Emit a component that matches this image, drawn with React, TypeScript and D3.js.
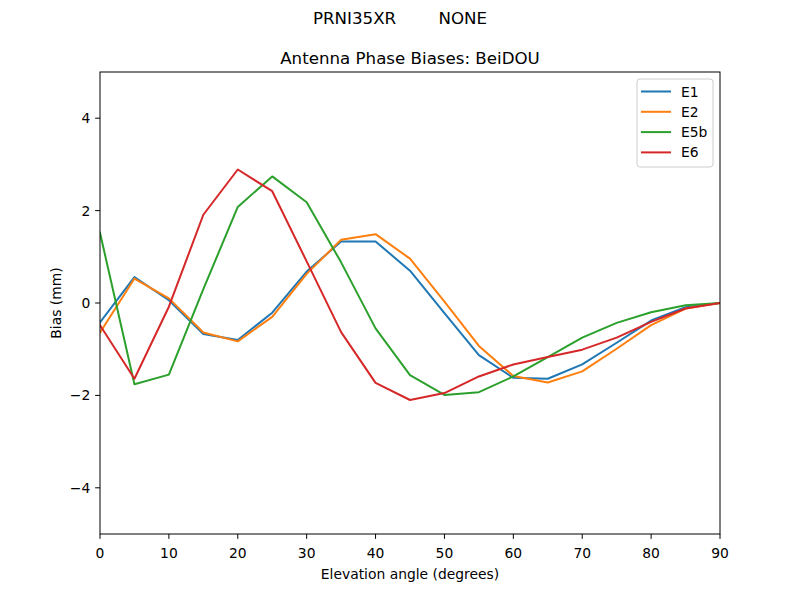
import React from "react";
import * as d3 from "d3";

const ELEVATION = [0, 5, 10, 15, 20, 25, 30, 35, 40, 45, 50, 55, 60, 65, 70, 75, 80, 85, 90];

const E1 = [-0.42, 0.56, 0.06, -0.67, -0.8, -0.21, 0.68, 1.33, 1.33, 0.7, -0.22, -1.13, -1.62, -1.64, -1.33, -0.86, -0.38, -0.09, 0];
const E2 = [-0.64, 0.53, 0.1, -0.64, -0.83, -0.3, 0.63, 1.37, 1.49, 0.96, 0.03, -0.93, -1.58, -1.72, -1.48, -0.99, -0.48, -0.12, 0];
const E5B = [1.52, -1.76, -1.55, 0.3, 2.08, 2.74, 2.18, 0.88, -0.55, -1.56, -1.99, -1.93, -1.59, -1.17, -0.75, -0.43, -0.2, -0.05, 0];
const E6 = [-0.48, -1.64, -0.08, 1.91, 2.89, 2.42, 0.9, -0.63, -1.73, -2.1, -1.95, -1.59, -1.33, -1.17, -1.01, -0.75, -0.41, -0.12, 0];

const X_TICKS = [0, 10, 20, 30, 40, 50, 60, 70, 80, 90];
const Y_TICKS = [-4, -2, 0, 2, 4];

const SERIES = [
  { label: "E1", values: E1, color: "#1f77b4" },
  { label: "E2", values: E2, color: "#ff7f0e" },
  { label: "E5b", values: E5B, color: "#2ca02c" },
  { label: "E6", values: E6, color: "#d62728" },
];

const SUPTITLE = "PRNI35XR        NONE";
const TITLE = "Antenna Phase Biases: BeiDOU";
const X_LABEL = "Elevation angle (degrees)";
const Y_LABEL = "Bias (mm)";

export default function App() {
  const width = 800;
  const height = 600;
  const margin = { top: 72, right: 80, bottom: 66, left: 100 };
  const w = width - margin.left - margin.right;
  const h = height - margin.top - margin.bottom;

  const x = d3.scaleLinear().domain([0, 90]).range([0, w]);
  const y = d3.scaleLinear().domain([-5, 5]).range([h, 0]);
  const fmt = d3.format("d");

  const line = d3
    .line<number>()
    .x((_, i) => x(ELEVATION[i]))
    .y((d) => y(d));

  const font = "'DejaVu Sans', sans-serif";
  const small = 13.89; // 10pt at 100 dpi
  const big = 16.67; // 12pt at 100 dpi

  return (
    <svg
      width={width}
      height={height}
      style={{ position: "absolute", left: 0, top: 0, background: "#fff" }}
      fontFamily={font}
    >
      <text x={width / 2} y={24} fontSize={big} textAnchor="middle" style={{ whiteSpace: "pre" }}>
        {SUPTITLE}
      </text>
      <g transform={`translate(${margin.left},${margin.top})`}>
        <text x={w / 2} y={-8.3} fontSize={big} textAnchor="middle">
          {TITLE}
        </text>

        <defs>
          <clipPath id="plot-clip">
            <rect x={0} y={0} width={w} height={h} />
          </clipPath>
        </defs>

        {/* Lines */}
        <g clipPath="url(#plot-clip)">
          {SERIES.map((s) => (
            <path
              key={s.label}
              d={line(s.values) || ""}
              fill="none"
              stroke={s.color}
              strokeWidth={2}
              strokeLinejoin="round"
              strokeLinecap="square"
            />
          ))}
        </g>

        {/* Frame */}
        <rect x={0} y={0} width={w} height={h} fill="none" stroke="#000" strokeWidth={1} />

        {/* X axis */}
        {X_TICKS.map((t) => (
          <g key={t} transform={`translate(${x(t)},${h})`}>
            <line y1={0} y2={4.86} stroke="#000" />
            <text y={19.5} fontSize={small} textAnchor="middle" dominantBaseline="middle">
              {fmt(t)}
            </text>
          </g>
        ))}
        <text x={w / 2} y={h + 41} fontSize={small} textAnchor="middle" dominantBaseline="middle">
          {X_LABEL}
        </text>

        {/* Y axis */}
        {Y_TICKS.map((t) => (
          <g key={t} transform={`translate(0,${y(t)})`}>
            <line x1={0} x2={-4.86} stroke="#000" />
            <text x={-9.7} fontSize={small} textAnchor="end" dominantBaseline="central">
              {fmt(t)}
            </text>
          </g>
        ))}
        <text
          transform={`translate(${-43},${h / 2}) rotate(-90)`}
          fontSize={small}
          textAnchor="middle"
          dominantBaseline="middle"
        >
          {Y_LABEL}
        </text>

        {/* Legend */}
        <g transform={`translate(${w - 83},7)`}>
          <rect x={0} y={0} width={76} height={88} rx={3} fill="#fff" fillOpacity={0.8} stroke="#ccc" />
          {SERIES.map((s, i) => (
            <g key={s.label} transform={`translate(0,${12.5 + i * 20.3})`}>
              <line x1={4} x2={34} y1={0} y2={0} stroke={s.color} strokeWidth={2} />
              <text x={44} y={0} fontSize={small} dominantBaseline="central">
                {s.label}
              </text>
            </g>
          ))}
        </g>
      </g>
    </svg>
  );
}
